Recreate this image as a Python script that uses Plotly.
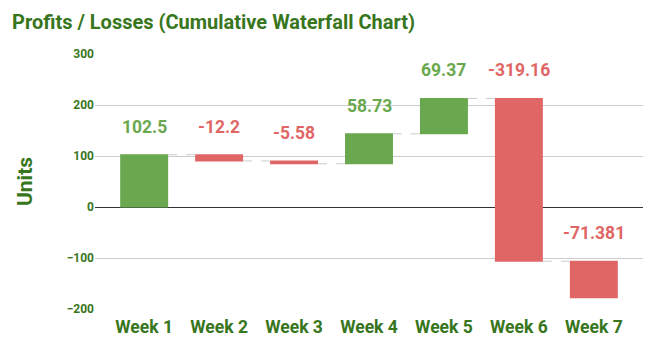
import plotly.graph_objects as go

categories = ["Week 1", "Week 2", "Week 3", "Week 4", "Week 5", "Week 6", "Week 7"]
values = [102.5, -12.2, -5.58, 58.73, 69.37, -319.16, -71.381]
y_ticks = [-200, -100, 0, 100, 200, 300]

GREEN = "#6aa84f"
RED = "#e06666"
DARK_GREEN = "#38761d"
FONT = "Roboto"

fig = go.Figure()
fig.add_trace(go.Waterfall(
    x=categories,
    y=values,
    measure=["relative"] * len(values),
    increasing=dict(marker=dict(color=GREEN)),
    decreasing=dict(marker=dict(color=RED)),
    connector=dict(mode="between", line=dict(color="#cccccc", width=1, dash="dash")),
    hoverinfo="x+y",
    showlegend=False,
))

# data labels above each bar's top
cum = 0
annotations = []
for cat, v in zip(categories, values):
    start = cum
    cum += v
    top = max(start, cum)
    annotations.append(dict(
        x=cat, y=top, xref="x", yref="y", text=str(v), showarrow=False,
        yanchor="middle", yshift=28,
        font=dict(family=FONT, size=17.5, color=GREEN if v >= 0 else RED, weight="bold"),
    ))

fig.update_layout(
    width=655, height=350,
    margin=dict(l=95, r=12, t=54, b=41),
    paper_bgcolor="white", plot_bgcolor="white",
    waterfallgap=0.36,
    title=dict(text="Profits / Losses (Cumulative Waterfall Chart)", x=12/655, xanchor="left",
               y=1 - 22/350, yanchor="middle", xref="container", yref="container",
               font=dict(family=FONT, size=20, color=DARK_GREEN, weight="bold")),
    annotations=annotations,
    font=dict(family=FONT),
)
fig.update_xaxes(
    range=[-0.656, 6.656], showgrid=False, showline=False, ticks="",
    ticklabelstandoff=5,
    tickfont=dict(family=FONT, size=17.5, color=DARK_GREEN, weight="bold"),
)
fig.update_yaxes(
    range=[-200, 300], tickvals=y_ticks, showgrid=True, gridcolor="#cccccc", gridwidth=1,
    zeroline=True, zerolinecolor="#333333", zerolinewidth=1, showline=False, ticks="",
    tickfont=dict(family=FONT, size=12, color=DARK_GREEN, weight="bold"),
    title=dict(text="Units", standoff=28, font=dict(family=FONT, size=21, color=DARK_GREEN, weight="bold")),
)

fig.write_html("out.html")
